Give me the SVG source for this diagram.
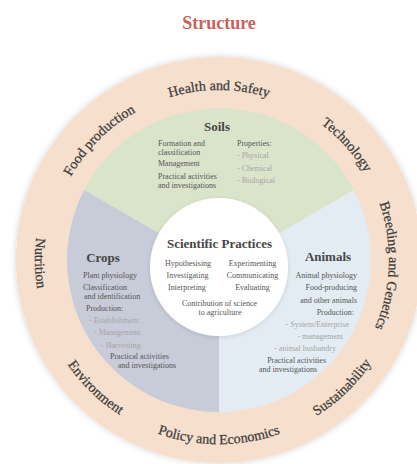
<svg xmlns="http://www.w3.org/2000/svg" width="417" height="464" viewBox="0 0 417 464">
<style>
.title{font-family:"Liberation Serif",serif;font-weight:bold;font-size:18px;fill:#c8625c;text-anchor:middle}
.ring{font-family:"Liberation Serif",serif;font-size:14px;fill:#3b3b3b;stroke:#3b3b3b;stroke-width:0.25}
.head{font-family:"Liberation Serif",serif;font-weight:bold;font-size:13px;fill:#464646;text-anchor:middle}
.t{font-family:"Liberation Serif",serif;font-size:8px;fill:#555555}
.g{font-family:"Liberation Serif",serif;font-size:8px;fill:#a5a5a5}
.m{text-anchor:middle}
.e{text-anchor:end}
</style>
<defs>
<filter id="sh" x="-10%" y="-10%" width="120%" height="120%">
<feDropShadow dx="0" dy="0" stdDeviation="3" flood-color="#000" flood-opacity="0.18"/>
</filter>
<filter id="sh2" x="-20%" y="-20%" width="140%" height="140%">
<feDropShadow dx="0" dy="1" stdDeviation="2" flood-color="#000" flood-opacity="0.12"/>
</filter>
<path id="p-health" d="M64.9,188.2 A170,170 0 0 1 373.1,188.2"/>
<path id="p-food" d="M59.3,318.1 A170,170 0 0 1 277.1,100.3"/>
<path id="p-tech" d="M169.3,97.4 A170,170 0 0 1 375.5,326.4"/>
<path id="p-breed" d="M296.2,108.5 A170,170 0 0 1 285.4,416.5"/>
<path id="p-nutr" d="M138.3,94.6 A184,184 0 0 0 144.2,428.1"/>
<path id="p-env" d="M45.0,200.1 A184,184 0 0 0 284.9,431.8"/>
<path id="p-policy" d="M52.2,337.8 A184,184 0 0 0 385.8,337.8"/>
<path id="p-sust" d="M153.1,431.8 A184,184 0 0 0 393.0,200.1"/>
</defs>

<g id="title"><text class="title" x="219" y="29">Structure</text></g>

<g id="outer-ring">
<circle cx="219" cy="260" r="203" fill="#f6dfcd" filter="url(#sh)"/>
</g>

<g id="label-health"><text class="ring"><textPath href="#p-health" startOffset="50%" text-anchor="middle">Health and Safety</textPath></text></g>
<g id="label-food"><text class="ring"><textPath href="#p-food" startOffset="50%" text-anchor="middle">Food production</textPath></text></g>
<g id="label-tech"><text class="ring"><textPath href="#p-tech" startOffset="50%" text-anchor="middle">Technology</textPath></text></g>
<g id="label-breed"><text class="ring"><textPath href="#p-breed" startOffset="50%" text-anchor="middle">Breeding and Genetics</textPath></text></g>
<g id="label-nutrition"><text class="ring"><textPath href="#p-nutr" startOffset="50%" text-anchor="middle">Nutrition</textPath></text></g>
<g id="label-env"><text class="ring"><textPath href="#p-env" startOffset="50%" text-anchor="middle">Environment</textPath></text></g>
<g id="label-policy"><text class="ring"><textPath href="#p-policy" startOffset="50%" text-anchor="middle">Policy and Economics</textPath></text></g>
<g id="label-sust"><text class="ring"><textPath href="#p-sust" startOffset="50%" text-anchor="middle">Sustainability</textPath></text></g>

<g id="soils">
<path d="M219,268 L84.1,190.1 A152,152 0 0 1 353.9,190.1 Z" fill="#dae4cb"/>
<text class="head" x="217" y="131">Soils</text>
<text class="t" x="158" y="145.5">Formation and<tspan x="158" dy="9">classification</tspan></text>
<text class="t" x="158" y="166">Management</text>
<text class="t" x="158" y="178.5">Practical activities<tspan x="158" dy="9">and investigations</tspan></text>
<text class="t" x="237" y="146">Properties:</text>
<text class="g" x="237" y="158">- Physical</text>
<text class="g" x="237" y="170.5">- Chemical</text>
<text class="g" x="237" y="183">- Biological</text>
</g>

<g id="crops">
<path d="M219,268 L219,412 A152,152 0 0 1 84.1,190.1 Z" fill="#c8ccd8"/>
<text class="head" x="103" y="262">Crops</text>
<text class="t" x="83" y="278">Plant physiology</text>
<text class="t" x="83" y="289.5">Classification<tspan x="84" dy="9">and identification</tspan></text>
<text class="t" x="86" y="310.5">Production:</text>
<text class="g" x="89" y="323">- Establishment</text>
<text class="g" x="94" y="334.5">- Management</text>
<text class="g" x="101" y="347.5">- Harvesting</text>
<text class="t" x="110" y="359">Practical activities<tspan x="118" dy="9">and investigations</tspan></text>
</g>

<g id="animals">
<path d="M219,268 L353.9,190.1 A152,152 0 0 1 219,412 Z" fill="#e3ecf3"/>
<text class="head" x="328" y="261">Animals</text>
<text class="t e" x="357" y="278">Animal physiology</text>
<text class="t e" x="357" y="290">Food-producing<tspan x="357" dy="12.5">and other animals</tspan></text>
<text class="t e" x="354" y="314.5">Production:</text>
<text class="g e" x="349" y="326.5">- System/Enterprise</text>
<text class="g e" x="343" y="339">- management</text>
<text class="g e" x="336" y="351">- animal husbandry</text>
<text class="t e" x="326" y="363">Practical activities<tspan x="317" dy="9">and investigations</tspan></text>
</g>

<g id="scientific-practices">
<circle cx="219" cy="267" r="69" fill="#ffffff" filter="url(#sh2)"/>
<text class="head" x="219.5" y="248">Scientific Practices</text>
<text class="t m" x="188" y="266">Hypothesising</text>
<text class="t m" x="252.5" y="266">Experimenting</text>
<text class="t m" x="187.5" y="278">Investigating</text>
<text class="t m" x="252.5" y="278">Communicating</text>
<text class="t m" x="187" y="290">Interpreting</text>
<text class="t m" x="252.5" y="290">Evaluating</text>
<text class="t m" x="219.5" y="305.5">Contribution of science<tspan x="220" dy="9">to agriculture</tspan></text>
</g>
</svg>
